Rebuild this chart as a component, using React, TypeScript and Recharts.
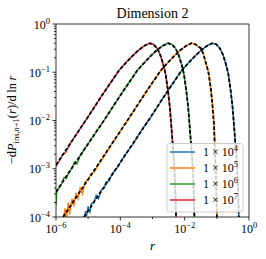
import React from 'react';
import { LineChart, Line, XAxis, YAxis, ReferenceLine } from 'recharts';

// ---- data (log10 r, log10 value) ----
const blueSim: number[][] = [
  [-5.12, -4.05], [-5.08, -3.88], [-5.05, -3.98], [-5.0, -3.78], [-4.95, -3.92], [-4.9, -3.72],
  [-4.82, -3.7], [-4.75, -3.55], [-4.68, -3.62], [-4.6, -3.45], [-4.5, -3.4], [-4.45, -3.28],
  [-4.35, -3.25], [-4.25, -3.1], [-4.1, -2.98], [-3.9, -2.76], [-3.6, -2.48], [-3.3, -2.16],
  [-3.1, -1.98], [-2.6, -1.46], [-2.1, -0.97], [-1.9, -0.82], [-1.7, -0.68], [-1.5, -0.55],
  [-1.3, -0.45], [-1.14, -0.4], [-1.02, -0.42], [-0.9, -0.51], [-0.82, -0.62], [-0.75, -0.76],
  [-0.69, -0.9], [-0.64, -1.05], [-0.57, -1.38], [-0.51, -1.73], [-0.47, -2.07], [-0.43, -2.42],
  [-0.39, -2.76], [-0.36, -3.11], [-0.34, -3.45], [-0.32, -3.94], [-0.31, -4.1],
];
const blueFit: number[][] = [
  [-5.13, -4.0], [-4.6, -3.47], [-4.1, -2.97], [-3.6, -2.47], [-3.1, -1.97], [-2.6, -1.46],
  [-2.1, -0.97], [-1.9, -0.82], [-1.7, -0.68], [-1.5, -0.55], [-1.3, -0.45], [-1.14, -0.4],
  [-1.02, -0.42], [-0.9, -0.51], [-0.82, -0.62], [-0.75, -0.76], [-0.69, -0.9], [-0.64, -1.05],
  [-0.57, -1.38], [-0.51, -1.73], [-0.47, -2.07], [-0.43, -2.42], [-0.39, -2.76], [-0.36, -3.11],
  [-0.34, -3.45], [-0.32, -3.94], [-0.31, -4.1],
];
const orangeSim: number[][] = [
  [-5.78, -4.1], [-5.72, -3.82], [-5.68, -4.05], [-5.62, -3.7], [-5.58, -3.95], [-5.5, -3.62],
  [-5.45, -3.78], [-5.38, -3.5], [-5.32, -3.62], [-5.25, -3.4], [-5.18, -3.52], [-5.1, -3.28],
  [-5.0, -3.22], [-4.92, -3.12], [-4.8, -3.06], [-4.65, -2.88], [-4.5, -2.74], [-4.25, -2.47],
  [-3.75, -1.97], [-3.25, -1.46], [-2.75, -0.97], [-2.55, -0.82], [-2.35, -0.68], [-2.15, -0.55],
  [-1.95, -0.45], [-1.79, -0.4], [-1.67, -0.42], [-1.57, -0.47], [-1.5, -0.5], [-1.42, -0.62],
  [-1.36, -0.76], [-1.3, -0.9], [-1.25, -1.04], [-1.18, -1.38], [-1.13, -1.73], [-1.09, -2.07],
  [-1.07, -2.42], [-1.05, -2.76], [-1.03, -3.11], [-1.02, -3.45], [-1.0, -3.94], [-0.99, -4.1],
];
const orangeFit: number[][] = [
  [-5.78, -4.0], [-5.25, -3.47], [-4.75, -2.97], [-4.25, -2.47], [-3.75, -1.97], [-3.25, -1.46],
  [-2.75, -0.97], [-2.55, -0.82], [-2.35, -0.68], [-2.15, -0.55], [-1.95, -0.45], [-1.79, -0.4],
  [-1.67, -0.42], [-1.57, -0.47], [-1.5, -0.5], [-1.42, -0.62], [-1.36, -0.76], [-1.3, -0.9],
  [-1.25, -1.04], [-1.18, -1.38], [-1.13, -1.73], [-1.09, -2.07], [-1.07, -2.42], [-1.05, -2.76],
  [-1.03, -3.11], [-1.02, -3.45], [-1.0, -3.94], [-0.99, -4.1],
];
const greenSim: number[][] = [
  [-6.0, -3.75], [-5.98, -3.5], [-5.93, -3.42], [-5.88, -3.38], [-5.82, -3.3], [-5.75, -3.18],
  [-5.68, -3.2], [-5.6, -3.08], [-5.5, -2.98], [-5.42, -2.86], [-5.35, -2.9], [-5.25, -2.73],
  [-5.1, -2.58], [-5.0, -2.48], [-4.48, -1.97], [-3.98, -1.46], [-3.48, -0.97], [-3.28, -0.82],
  [-3.08, -0.68], [-2.88, -0.55], [-2.68, -0.45], [-2.52, -0.4], [-2.4, -0.42], [-2.28, -0.51],
  [-2.2, -0.62], [-2.13, -0.76], [-2.07, -0.9], [-2.02, -1.05], [-1.95, -1.38], [-1.89, -1.73],
  [-1.85, -2.07], [-1.81, -2.42], [-1.77, -2.76], [-1.74, -3.11], [-1.72, -3.45], [-1.7, -3.94],
  [-1.69, -4.1],
];
const greenFit: number[][] = [
  [-6.0, -3.48], [-5.5, -2.98], [-5.0, -2.48], [-4.48, -1.97], [-3.98, -1.46], [-3.48, -0.97],
  [-3.28, -0.82], [-3.08, -0.68], [-2.88, -0.55], [-2.68, -0.45], [-2.52, -0.4], [-2.4, -0.42],
  [-2.28, -0.51], [-2.2, -0.62], [-2.13, -0.76], [-2.07, -0.9], [-2.02, -1.05], [-1.95, -1.38],
  [-1.89, -1.73], [-1.85, -2.07], [-1.81, -2.42], [-1.77, -2.76], [-1.74, -3.11], [-1.72, -3.45],
  [-1.7, -3.94], [-1.69, -4.1],
];
const redSim: number[][] = [
  [-6.0, -2.95], [-5.9, -2.84], [-5.8, -2.72], [-5.7, -2.66], [-5.55, -2.47], [-5.05, -1.97],
  [-4.55, -1.46], [-4.05, -0.97], [-3.85, -0.82], [-3.65, -0.68], [-3.45, -0.55], [-3.25, -0.45],
  [-3.09, -0.4], [-2.97, -0.42], [-2.85, -0.51], [-2.77, -0.62], [-2.7, -0.76], [-2.64, -0.9],
  [-2.59, -1.05], [-2.52, -1.38], [-2.46, -1.73], [-2.42, -2.07], [-2.38, -2.42], [-2.34, -2.76],
  [-2.31, -3.11], [-2.29, -3.45], [-2.27, -3.94], [-2.26, -4.1],
];
const redFit: number[][] = [
  [-6.0, -2.92], [-5.55, -2.47], [-5.05, -1.97], [-4.55, -1.46], [-4.05, -0.97], [-3.85, -0.82],
  [-3.65, -0.68], [-3.45, -0.55], [-3.25, -0.45], [-3.09, -0.4], [-2.97, -0.42], [-2.85, -0.51],
  [-2.77, -0.62], [-2.7, -0.76], [-2.64, -0.9], [-2.59, -1.05], [-2.52, -1.38], [-2.46, -1.73],
  [-2.42, -2.07], [-2.38, -2.42], [-2.34, -2.76], [-2.31, -3.11], [-2.29, -3.45], [-2.27, -3.94],
  [-2.26, -4.1],
];

const legendExponents = ['4', '5', '6', '7'];
const seriesColors = ['#1f77b4', '#ff7f0e', '#2ca02c', '#d62728'];
const simSeries = [blueSim, orangeSim, greenSim, redSim];
const fitSeries = [blueFit, orangeFit, greenFit, redFit];

const xMajorExp = [-6, -4, -2, 0];
const xMinorExp = [-5, -3, -1];
const yMajorExp = [-4, -3, -2, -1, 0];
const yMinorMult = [2, 3, 4, 5, 6, 7, 8, 9];

const toRows = (pts: number[][]) => pts.map(([lr, lp]) => ({ r: Math.pow(10, lr), p: Math.pow(10, lp) }));

const xTicks = [...xMajorExp, ...xMinorExp].sort((a, b) => a - b).map((e) => Math.pow(10, e));
const yTicks: number[] = [];
yMajorExp.forEach((e) => {
  yTicks.push(Math.pow(10, e));
  if (e < 0) yMinorMult.forEach((m) => yTicks.push(m * Math.pow(10, e)));
});

const FONT = '"Liberation Serif", "DejaVu Serif", serif';

const expLabel = (e: number) => (e < 0 ? '\u2212' + Math.abs(e) : String(e));

const isMajorDecade = (v: number, list: number[]) => {
  const l = Math.log10(v);
  const e = Math.round(l);
  return Math.abs(l - e) < 1e-6 && list.includes(e) ? e : null;
};

const XTick = (props: any) => {
  const { x, y, payload } = props;
  const e = isMajorDecade(payload.value, xMajorExp);
  const major = e !== null;
  return (
    <g>
      <line x1={x} x2={x} y1={y} y2={y + (major ? 3.5 : 2)} stroke="#000" strokeWidth={0.8} />
      {major && (
        <text x={x} y={y + 16} textAnchor="middle" fontSize={12} fontFamily={FONT} fill="#000">
          10
          <tspan dy={-5} fontSize={8.5}>{expLabel(e as number)}</tspan>
        </text>
      )}
    </g>
  );
};

const YTick = (props: any) => {
  const { x, y, payload } = props;
  const e = isMajorDecade(payload.value, yMajorExp);
  const major = e !== null;
  return (
    <g>
      <line x1={x} x2={x - (major ? 3.5 : 2)} y1={y} y2={y} stroke="#000" strokeWidth={0.8} />
      {major && (
        <text x={x - 6} y={y + 4.5} textAnchor="end" fontSize={12} fontFamily={FONT} fill="#000">
          10
          <tspan dy={-5} fontSize={8.5}>{expLabel(e as number)}</tspan>
        </text>
      )}
    </g>
  );
};

export default function App() {
  return (
    <div style={{ position: 'absolute', left: 0, top: 0, width: 266, height: 259, background: '#fff' }}>
      <LineChart width={266} height={259} margin={{ top: 24, right: 17, bottom: 0, left: 0 }}>
        <XAxis
          dataKey="r"
          type="number"
          scale="log"
          domain={[1e-6, 1]}
          allowDataOverflow
          ticks={xTicks}
          interval={0}
          tick={<XTick />}
          tickLine={false}
          tickSize={0}
          tickMargin={0}
          height={42}
          axisLine={{ stroke: '#000', strokeWidth: 0.8 }}
        />
        <YAxis
          dataKey="p"
          type="number"
          scale="log"
          domain={[1e-4, 1]}
          allowDataOverflow
          ticks={yTicks}
          interval={0}
          tick={<YTick />}
          tickLine={false}
          tickSize={0}
          tickMargin={0}
          width={56}
          axisLine={{ stroke: '#000', strokeWidth: 0.8 }}
        />
        <ReferenceLine y={1} stroke="#000" strokeWidth={0.8} />
        <ReferenceLine x={1} stroke="#000" strokeWidth={0.8} />
        {simSeries.map((s, i) => (
          <Line
            key={'sim' + i}
            data={toRows(s)}
            dataKey="p"
            type="linear"
            stroke={seriesColors[i]}
            strokeWidth={1.5}
            dot={false}
            isAnimationActive={false}
          />
        ))}
        {fitSeries.map((s, i) => (
          <Line
            key={'fit' + i}
            data={toRows(s)}
            dataKey="p"
            type="linear"
            stroke="#000"
            strokeWidth={1.8}
            strokeDasharray="3.5 2"
            dot={false}
            isAnimationActive={false}
          />
        ))}
      </LineChart>
      <svg width={266} height={259} style={{ position: 'absolute', left: 0, top: 0, pointerEvents: 'none' }}>
        <text x={152.5} y={18} textAnchor="middle" fontSize={14} fontFamily={FONT} fill="#000">
          Dimension 2
        </text>
        <text x={152.5} y={250} textAnchor="middle" fontSize={13} fontFamily={FONT} fontStyle="italic" fill="#000">
          r
        </text>
        <text
          transform="translate(16,120) rotate(-90)"
          textAnchor="middle"
          fontSize={12.5}
          fontFamily={FONT}
          fill="#000"
        >
          {'\u2212d'}
          <tspan fontStyle="italic">P</tspan>
          <tspan fontSize={8.5} dy={2.5}>ins,</tspan>
          <tspan fontSize={8.5} fontStyle="italic">n</tspan>
          <tspan fontSize={8.5}>+1</tspan>
          <tspan dy={-2.5}>(</tspan>
          <tspan fontStyle="italic">r</tspan>
          <tspan>{')/d\u2009ln\u2009'}</tspan>
          <tspan fontStyle="italic">r</tspan>
        </text>
        <g>
          <rect x={167} y={143.5} width={76} height={68.5} rx={2.5} fill="#fff" fillOpacity={0.8} stroke="#ccc" strokeWidth={1} />
          {legendExponents.map((ex, i) => {
            const cy = 152 + i * 16;
            return (
              <g key={ex}>
                <line x1={170} x2={195} y1={cy} y2={cy} stroke={seriesColors[i]} strokeWidth={1.5} />
                <text x={203} y={cy + 4} fontSize={12} fontFamily={FONT} fill="#000">
                  {'1 \u00d7 10'}
                  <tspan dy={-5} fontSize={8.5}>{ex}</tspan>
                </text>
              </g>
            );
          })}
        </g>
      </svg>
    </div>
  );
}
